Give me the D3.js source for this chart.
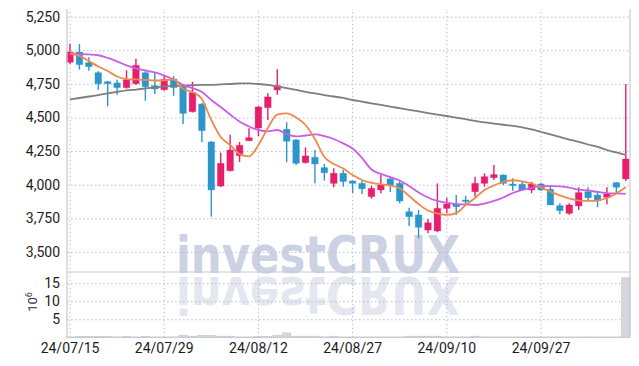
<!DOCTYPE html>
<html>
<head>
<meta charset="utf-8">
<script src="https://cdn.jsdelivr.net/npm/d3@7"></script>
<style>
  body { margin: 0; background: #fff; }
  svg { display: block; }
  .tick text, .unit { font-family: "Liberation Sans Narrow", "Roboto", "DejaVu Sans Condensed", sans-serif; }
  .wm { font-family: "DejaVu Sans", "Liberation Sans", sans-serif; font-weight: bold; font-size: 52px; }
</style>
</head>
<body>
<div id="chart-area"></div>
<script>
// trading days (categories)
const dates = [
  "2024-07-15","2024-07-16","2024-07-17","2024-07-18","2024-07-19","2024-07-22","2024-07-23","2024-07-24","2024-07-25","2024-07-26",
  "2024-07-29","2024-07-30","2024-07-31","2024-08-01","2024-08-02","2024-08-05","2024-08-06","2024-08-07","2024-08-08","2024-08-09",
  "2024-08-12","2024-08-13","2024-08-14","2024-08-16","2024-08-19","2024-08-20","2024-08-21","2024-08-22","2024-08-23","2024-08-26",
  "2024-08-27","2024-08-28","2024-08-29","2024-08-30","2024-09-02","2024-09-03","2024-09-04","2024-09-05","2024-09-06","2024-09-09",
  "2024-09-10","2024-09-11","2024-09-12","2024-09-13","2024-09-19","2024-09-20","2024-09-23","2024-09-24","2024-09-25","2024-09-26",
  "2024-09-27","2024-09-30","2024-10-02","2024-10-04","2024-10-07","2024-10-08","2024-10-10","2024-10-11","2024-10-14","2024-10-15"
]
const open  = [4911,4987,4908,4833,4766,4757,4722,4751,4833,4737, 4707,4786,4729,4543,4600,4318,3990,4104,4216,4327,
               4422,4573,4705,4412,4333,4164,4204,4127,4010,4085, 4028,4010,3911,3961,4043,4010,3799,3775,3663,3656,
               3824,3856,3886,3948,4010,4052,4072,4005,4003,3961, 4005,3966,3844,3787,3842,3948,3923,3906,4015,4043]
const high  = [5049,5047,4948,4844,4772,4781,4851,4937,4848,4833, 4814,4809,4742,4766,4608,4325,4238,4372,4318,4420,
               4586,4680,4859,4464,4340,4278,4258,4154,4122,4110, 4031,4028,3993,4072,4052,4028,3829,3812,3745,4010,
               3903,3924,3918,4060,4085,4147,4076,4048,4022,4022, 4015,3998,3862,3862,3981,3981,3948,3981,4020,4749]
const low   = [4898,4856,4848,4707,4583,4670,4716,4744,4625,4675, 4699,4662,4452,4537,4315,3762,3983,4098,4169,4325,
               4362,4481,4670,4167,4147,4158,4010,4030,3981,3985, 3936,3931,3896,3936,3946,3862,3693,3601,3639,3646,
               3787,3775,3854,3911,3985,4035,3998,3955,3957,3936, 3953,3849,3780,3777,3812,3881,3832,3854,3936,4028]
const close = [4987,4893,4878,4751,4751,4722,4781,4888,4729,4712, 4784,4722,4531,4685,4402,3961,4159,4258,4293,4350,
               4578,4653,4737,4323,4159,4214,4154,4089,4085,4024, 4010,3970,3973,3998,3996,3879,3762,3683,3717,3824,
               3856,3836,3881,4010,4060,4075,4010,3998,3961,4005, 3961,3849,3807,3849,3941,3903,3881,3931,3981,4191]
const volume = [80000,250000,250000,250000,250000,80000,250000,80000,250000,80000, 80000,80000,600000,300000,550000,550000,300000,300000,80000,80000,
                200000,200000,550000,1200000,300000,300000,300000,80000,300000,80000, 80000,80000,80000,80000,80000,80000,300000,300000,300000,300000,
                80000,80000,80000,300000,80000,80000,80000,80000,80000,80000, 80000,80000,80000,80000,80000,80000,80000,80000,80000,16500000]

// moving average lines
const maShort = [4976,4958,4920,4879,4846,4805,4786,4783,4779,4775, 4777,4783,4712,4690,4638,4481,4355,4295,4228,4210,
                 4295,4422,4522,4531,4500,4444,4340,4206,4154,4121, 4072,4035,4013,4003,3994,3973,3916,3856,3808,3786,
                 3775,3789,3849,3901,3961,3994,4020,4033,4024,4009, 3979,3949,3920,3897,3882,3879,3882,3901,3935,3983]
const maMid   = [4976,4972,4969,4963,4943,4917,4887,4865,4850,4835, 4812,4783,4742,4719,4690,4630,4578,4522,4470,4433,
                 4407,4396,4407,4377,4359,4366,4374,4362,4340,4307, 4269,4199,4113,4080,4057,4031,3990,3942,3905,3879,
                 3864,3856,3853,3849,3860,3879,3905,3938,3961,3975, 3990,3990,3987,3979,3964,3957,3946,3938,3935,3931]
const maLong  = [4635,4645,4656,4667,4679,4690,4701,4708,4716,4723, 4731,4734,4738,4740,4742,4742,4746,4749,4753,4753,
                 4749,4742,4731,4719,4705,4690,4679,4667,4656,4645, 4630,4618,4605,4593,4581,4569,4557,4545,4533,4522,
                 4511,4499,4487,4475,4464,4455,4446,4437,4426,4411, 4392,4374,4355,4336,4318,4299,4281,4258,4240,4221]

// tick labels
const priceTicks = [3500,3750,4000,4250,4500,4750,5000,5250]
const volTicks = [5e6,10e6,15e6]
const dateTicks = ["2024-07-15","2024-07-29","2024-08-12","2024-08-27","2024-09-10","2024-09-27"]

const W = 639, H = 366
const LEFT = 67, RIGHT = 630
const PRICE = { TOP: 9, BOTTOM: 272 }
const VOL = { TOP: 272, BOTTOM: 337.3 }

const UP = "#e61e6b", DOWN = "#2c96c8"
const GRID = "#b9bdd6"

const svg = d3.select("#chart-area").append("svg")
  .attr("width", W)
  .attr("height", H)

// scales
const x = d3.scaleBand()
  .domain(dates)
  .range([65.3, 630.5])
const cx = d => x(d) + x.bandwidth() / 2

const y = d3.scaleLinear()
  .domain([3350.5, 5307])
  .range([PRICE.BOTTOM, PRICE.TOP])

const yv = d3.scaleLinear()
  .domain([0, 18.1e6])
  .range([VOL.BOTTOM, VOL.TOP])

// watermark + mirrored copy (reflection reuses the same text)
const defs = svg.append("defs")
defs.append("text")
  .attr("id", "wmtext")
  .attr("class", "wm")
  .attr("x", 176).attr("y", 273)
  .attr("textLength", 284).attr("lengthAdjust", "spacingAndGlyphs")
  .text("investCRUX")
svg.append("use")
  .attr("href", "#wmtext")
  .attr("fill", "#ccd2e4")
svg.append("use")
  .attr("href", "#wmtext")
  .attr("transform", "translate(0,550) scale(1,-1)")
  .attr("fill", "#e5e7f0")

// grid - price panel
svg.append("g")
  .attr("transform", `translate(${LEFT},0)`)
  .call(d3.axisLeft(y).tickValues(priceTicks).tickSize(-(RIGHT - LEFT)).tickFormat(""))
  .call(g => g.select(".domain").remove())
  .selectAll("line").attr("stroke", GRID).attr("stroke-dasharray", "1.5,2.5")

// grid - volume panel
svg.append("g")
  .attr("transform", `translate(${LEFT},0)`)
  .call(d3.axisLeft(yv).tickValues(volTicks).tickSize(-(RIGHT - LEFT)).tickFormat(""))
  .call(g => g.select(".domain").remove())
  .selectAll("line").attr("stroke", GRID).attr("stroke-dasharray", "1.5,2.5")

// vertical grid on date ticks
svg.append("g")
  .attr("transform", `translate(0,${VOL.BOTTOM})`)
  .call(d3.axisBottom(x).tickValues(dateTicks).tickSize(-(VOL.BOTTOM - PRICE.TOP)).tickFormat(""))
  .call(g => g.select(".domain").remove())
  .selectAll("line").attr("stroke", GRID).attr("stroke-dasharray", "1.5,2.5")

// volume bars
svg.append("g").selectAll("rect")
  .data(dates)
  .enter().append("rect")
    .attr("x", d => x(d) + 0.5)
    .attr("width", x.bandwidth() - 1)
    .attr("y", (d, i) => yv(volume[i]))
    .attr("height", (d, i) => VOL.BOTTOM - yv(volume[i]))
    .attr("fill", "#d6d6de")
    .attr("stroke", "#c4c4cc")
    .attr("stroke-width", 0.6)

// candles
const candles = svg.append("g").selectAll("g")
  .data(dates)
  .enter().append("g")
const col = i => close[i] >= open[i] ? UP : DOWN

candles.append("line")
  .attr("x1", d => cx(d)).attr("x2", d => cx(d))
  .attr("y1", (d, i) => y(high[i]))
  .attr("y2", (d, i) => y(low[i]))
  .attr("stroke", (d, i) => col(i))
  .attr("stroke-width", 1.4)

candles.append("rect")
  .attr("x", d => cx(d) - 3.3)
  .attr("width", 6.6)
  .attr("y", (d, i) => y(Math.max(open[i], close[i])))
  .attr("height", (d, i) => Math.max(1.5, Math.abs(y(open[i]) - y(close[i]))))
  .attr("fill", (d, i) => col(i))
  .attr("stroke", (d, i) => col(i))
  .attr("stroke-opacity", 0.35)
  .attr("stroke-width", 1)

// moving averages
const lineFor = arr => d3.line()
  .x(d => cx(d))
  .y((d, i) => y(arr[i]))
  .curve(d3.curveMonotoneX)

const maLines = [[maLong, "#7e7e7e"], [maMid, "#c85ee8"], [maShort, "#ee8a4c"]]
maLines.forEach(([arr, c]) => {
  svg.append("path")
    .datum(dates)
    .attr("d", lineFor(arr))
    .attr("fill", "none")
    .attr("stroke", c)
    .attr("stroke-width", 1.8)
})

// frame
const frame = svg.append("g").attr("stroke", "#c8c9d2").attr("stroke-width", 1.2)
frame.append("line").attr("x1", LEFT).attr("x2", LEFT).attr("y1", PRICE.TOP).attr("y2", VOL.BOTTOM)
frame.append("line").attr("x1", RIGHT).attr("x2", RIGHT).attr("y1", PRICE.TOP).attr("y2", VOL.BOTTOM)
frame.append("line").attr("x1", LEFT).attr("x2", RIGHT).attr("y1", PRICE.BOTTOM).attr("y2", PRICE.BOTTOM)
frame.append("line").attr("x1", LEFT).attr("x2", RIGHT).attr("y1", VOL.BOTTOM).attr("y2", VOL.BOTTOM)

// axis labels
const priceAxis = svg.append("g")
  .attr("transform", `translate(${LEFT},0)`)
  .call(d3.axisLeft(y).tickValues(priceTicks).tickSize(0).tickPadding(7).tickFormat(d3.format(",")))
priceAxis.select(".domain").remove()

const volAxis = svg.append("g")
  .attr("transform", `translate(${LEFT},0)`)
  .call(d3.axisLeft(yv).tickValues(volTicks).tickSize(0).tickPadding(7).tickFormat(d => d / 1e6))
volAxis.select(".domain").remove()

const dateAxis = svg.append("g")
  .attr("transform", `translate(0,${VOL.BOTTOM})`)
  .call(d3.axisBottom(x).tickValues(dateTicks).tickSize(0).tickPadding(6).tickFormat(d => d.slice(2).replace(/-/g, "/")))
dateAxis.select(".domain").remove()

svg.selectAll(".tick text")
  .attr("font-size", 14)
  .attr("fill", "#1c1c1c")

// volume unit label
const unit = svg.append("text")
  .attr("class", "unit")
  .attr("transform", "translate(37,302) rotate(-90)")
  .attr("text-anchor", "middle")
  .attr("font-size", 13)
  .attr("fill", "#333")
unit.append("tspan").text("10")
unit.append("tspan").attr("dy", -5).attr("font-size", 9).text("6")
</script>
</body>
</html>
